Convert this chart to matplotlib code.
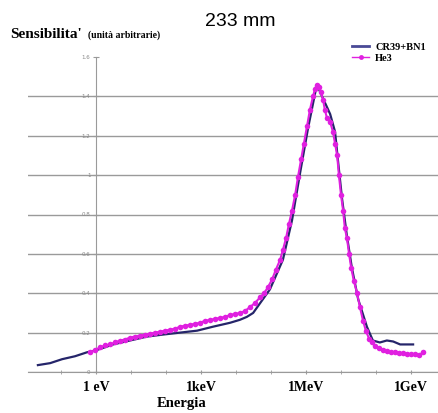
#!/usr/bin/env python3

"""Sensitivity versus energy (233 mm): CR39+BN1 against He3."""

import numpy as np
import matplotlib
matplotlib.use('Agg')
import matplotlib.pyplot as plt
from matplotlib.lines import Line2D

# log10 of the energy in eV
cr39_log_e = [-1.66, -1.31, -0.97, -0.60, -0.26, 0.00, 0.49, 0.97, 1.46, 1.91,
              2.40, 2.89, 3.34, 3.83, 4.11, 4.31, 4.49, 4.69, 4.97, 5.34,
              5.60, 5.83, 6.06, 6.31, 6.46, 6.69, 6.83, 6.91, 7.03, 7.17,
              7.31, 7.49, 7.74, 7.91, 8.11, 8.31, 8.49, 8.69, 8.89, 9.06]
cr39_values = [0.035, 0.045, 0.065, 0.08, 0.10, 0.11, 0.14, 0.16, 0.18, 0.19,
               0.20, 0.21, 0.23, 0.25, 0.265, 0.28, 0.30, 0.35, 0.42, 0.57,
               0.77, 1.01, 1.24, 1.46, 1.40, 1.31, 1.22, 1.08, 0.88, 0.69,
               0.53, 0.37, 0.23, 0.16, 0.15, 0.16, 0.155, 0.14, 0.14, 0.14]

he3_log_e = [-0.17, -0.03, 0.11, 0.26, 0.40, 0.54, 0.69, 0.83, 0.97, 1.11,
             1.26, 1.40, 1.54, 1.69, 1.83, 1.97, 2.11, 2.26, 2.40, 2.54,
             2.69, 2.83, 2.97, 3.11, 3.26, 3.40, 3.54, 3.69, 3.83, 3.97,
             4.11, 4.26, 4.40, 4.54, 4.69, 4.80, 4.91, 5.03, 5.14, 5.26,
             5.34, 5.43, 5.51, 5.60, 5.69, 5.77, 5.86, 5.94, 6.03, 6.11,
             6.20, 6.26, 6.31, 6.37, 6.43, 6.49, 6.54, 6.60, 6.69, 6.77,
             6.83, 6.89, 6.94, 7.00, 7.06, 7.11, 7.17, 7.23, 7.29, 7.37,
             7.46, 7.54, 7.63, 7.71, 7.80, 7.89, 7.97, 8.09, 8.20, 8.31,
             8.43, 8.54, 8.66, 8.77, 8.89, 9.00, 9.11, 9.23, 9.34]
he3_values = [0.10, 0.11, 0.125, 0.135, 0.14, 0.15, 0.16, 0.165, 0.175, 0.18,
              0.185, 0.19, 0.195, 0.20, 0.205, 0.21, 0.215, 0.22, 0.23, 0.235,
              0.24, 0.245, 0.25, 0.26, 0.265, 0.27, 0.275, 0.28, 0.29, 0.295,
              0.30, 0.31, 0.33, 0.35, 0.38, 0.40, 0.43, 0.47, 0.52, 0.57,
              0.62, 0.68, 0.75, 0.82, 0.90, 0.99, 1.08, 1.16, 1.25, 1.33,
              1.40, 1.44, 1.46, 1.45, 1.42, 1.38, 1.33, 1.29, 1.27, 1.22,
              1.16, 1.10, 1.00, 0.90, 0.82, 0.73, 0.68, 0.60, 0.53, 0.46,
              0.40, 0.33, 0.26, 0.21, 0.17, 0.15, 0.13, 0.12, 0.11, 0.105,
              0.10, 0.10, 0.095, 0.095, 0.09, 0.09, 0.09, 0.085, 0.10]

x_tick_values = [1, 1e3, 1e6, 1e9]
x_tick_labels = ['1 eV', '1keV', '1MeV', '1GeV']
y_tick_values = [0, 0.2, 0.4, 0.6, 0.8, 1.0, 1.2, 1.4, 1.6]
y_tick_labels = ['0', '0.2', '0.4', '0.6', '0.8', '1', '1.2', '1.4', '1.6']

BLUE = '#25256a'
MAGENTA = '#e020e0'
GRID = '#9a9a9a'
SERIF = 'Liberation Serif'

fig = plt.figure(figsize=(4.38, 4.13), dpi=100)
ax = fig.add_axes([28 / 438, 41 / 413, 410 / 438, 315 / 413])

ax.plot(10 ** np.array(cr39_log_e), cr39_values, color=BLUE, lw=1.6, zorder=3)
ax.plot(10 ** np.array(he3_log_e), he3_values, color=MAGENTA, lw=1.5,
        marker='o', markersize=4, markeredgewidth=0, zorder=4)

ax.set_xscale('log')
ax.set_xlim(10 ** (-68 / 35), 10 ** (342 / 35))
ax.set_ylim(0, 1.6)

for side in ['top', 'right']:
    ax.spines[side].set_visible(False)
ax.spines['left'].set_position(('data', 1.0))
ax.spines['left'].set_color(GRID)
ax.spines['bottom'].set_color(GRID)

ax.set_xticks(x_tick_values)
ax.set_xticklabels(x_tick_labels, fontfamily=SERIF, fontweight='bold', fontsize=10)
ax.set_xticks([10.0 ** k for k in range(-1, 10)], minor=True)
ax.xaxis.set_minor_formatter(plt.NullFormatter())
ax.tick_params(axis='x', which='both', direction='inout', length=3,
               color=GRID, pad=5)

ax.set_yticks(y_tick_values)
ax.set_yticklabels(y_tick_labels, fontsize=4, color='#888888')
ax.tick_params(axis='y', direction='inout', length=4, color=GRID, pad=2)
ax.yaxis.grid(True, color=GRID, lw=1)
ax.get_ygridlines()[-1].set_visible(False)
ax.set_axisbelow(True)

fig.text(240 / 438, 1 - 22 / 413, '233 mm', ha='center', va='center',
         fontsize=14, fontfamily='Liberation Sans')
fig.text(10 / 438, 1 - 34 / 413, "Sensibilita'", ha='left', va='center',
         fontsize=11, fontweight='bold', fontfamily=SERIF)
fig.text(88 / 438, 1 - 35 / 413, '(unità arbitrarie)', ha='left', va='center',
         fontsize=7, fontweight='bold', fontfamily=SERIF)
fig.text(182 / 438, 1 - 404 / 413, 'Energia', ha='center', va='center',
         fontsize=10.5, fontweight='bold', fontfamily=SERIF)

handles = [Line2D([], [], color='#4a4a96', lw=2),
           Line2D([], [], color=MAGENTA, lw=1, marker='o', markersize=3.5,
                  markeredgewidth=0)]
fig.legend(handles, ['CR39+BN1', 'He3'], loc='upper left',
           bbox_to_anchor=(347 / 438, 1 - 37 / 413), frameon=False,
           prop={'family': SERIF, 'weight': 'bold', 'size': 7.5},
           handlelength=1.6, handletextpad=0.6, labelspacing=0.2, borderpad=0)

fig.savefig('out.png', dpi=100)
